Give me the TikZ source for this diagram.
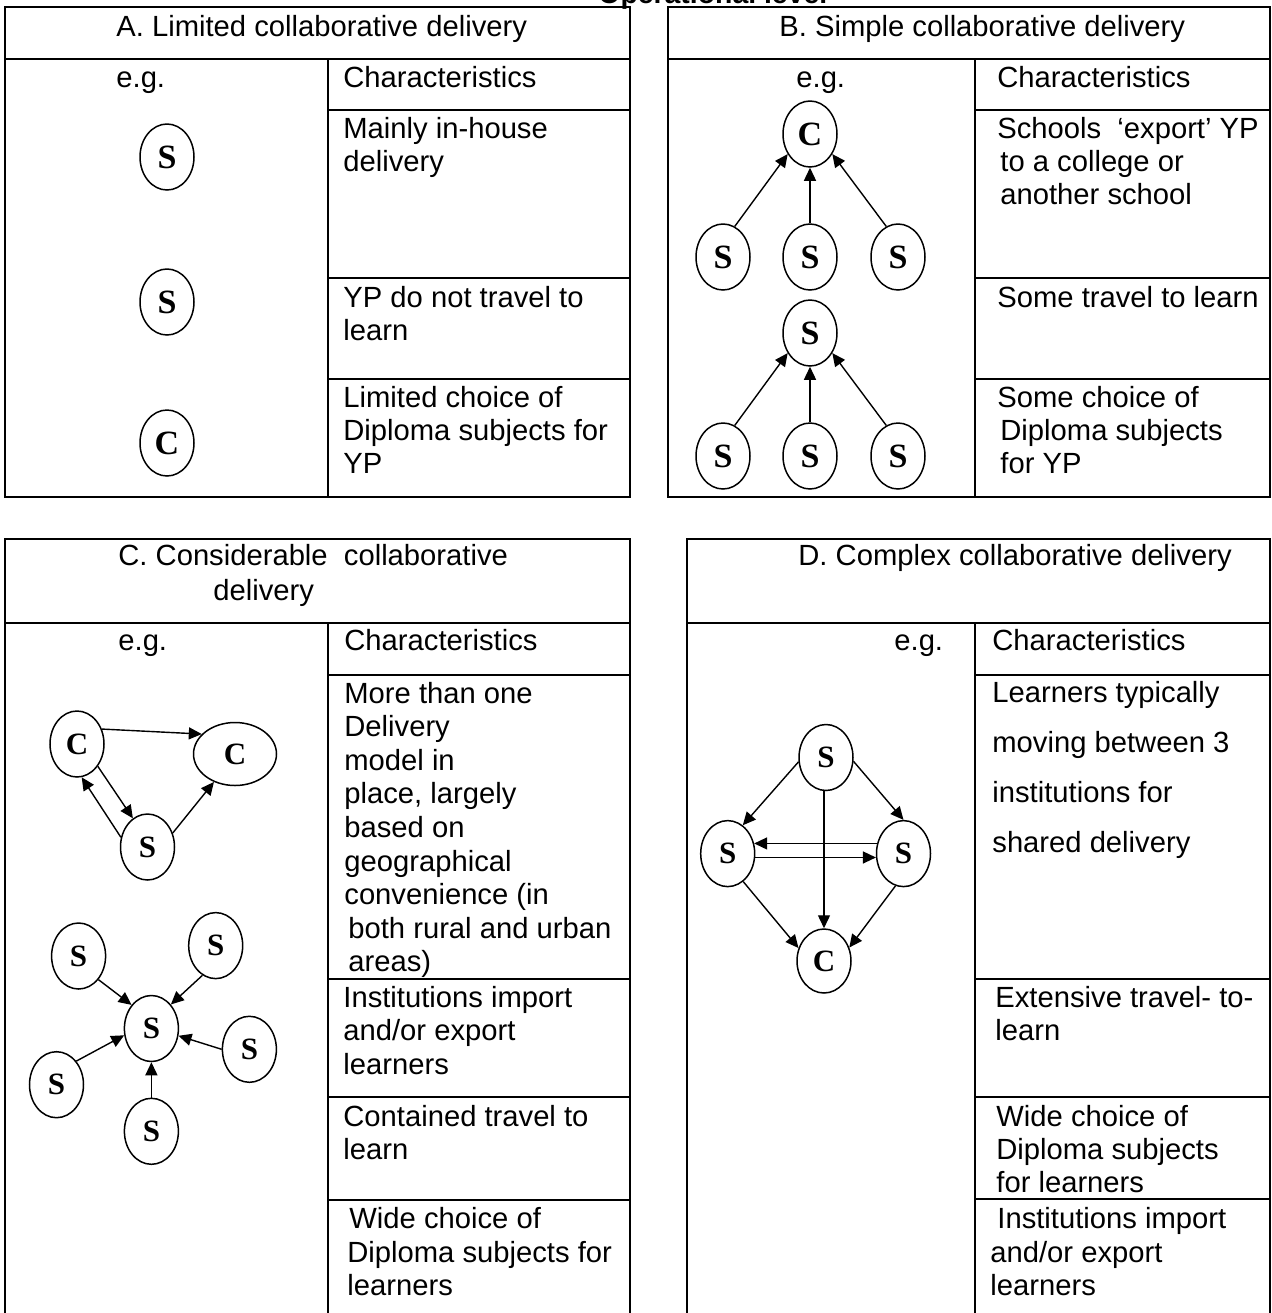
\documentclass[tikz,border=0pt]{standalone}
\usepackage{fontspec}
\setmainfont{Liberation Sans}
\newfontfamily\nodeserif{Liberation Serif}
\usetikzlibrary{shapes.geometric,arrows.meta}

\tikzset{
  frame/.style={line width=1pt},
  txt/.style={font=\fontsize{14.6}{17}\selectfont, inner sep=0pt, anchor=base west},
  inst/.style={ellipse, draw, line width=0.75pt, minimum width=27pt, minimum height=33pt, inner sep=0pt,
    font=\nodeserif\bfseries\fontsize{17}{17}\selectfont},
  instsm/.style={inst, font=\nodeserif\bfseries\fontsize{15.5}{15.5}\selectfont},
  arr/.style={-{Triangle[length=6.5pt,width=6pt]}, line width=0.7pt},
}
\newcommand\celllines[5]{\foreach \t [count=\i] in {#5} {\node[txt] (#1-\i) at (#2,{#3+(\i-1)*#4}) {\t};}}

\begin{document}
\begin{tikzpicture}[x=0.5pt,y=-0.5pt]
\useasboundingbox (0,0) rectangle (1271,1313);

% heading (cut by the top edge, as in the reference)
\node[font=\bfseries\fontsize{14.2}{17}\selectfont, inner sep=0pt, anchor=base west] (heading) at (598,3.5) {Operational level};

% ---------- Box A ----------
\draw[frame] (5,7) rectangle (630,497);
\draw[frame] (5,59) -- (630,59);
\draw[frame] (328,59) -- (328,497);
\draw[frame] (328,110) -- (630,110);
\draw[frame] (328,278) -- (630,278);
\draw[frame] (328,379) -- (630,379);
\node[txt] (a-title) at (116,36) {A. Limited collaborative delivery};
\node[txt] (a-eg) at (116,87) {e.g.};
\node[txt] (a-ch) at (343,87) {Characteristics};
\celllines{a1}{343}{138}{33}{Mainly in-house,delivery}
\celllines{a2}{343}{307}{33}{YP do not travel to,learn}
\celllines{a3}{343}{407}{33}{Limited choice of,Diploma subjects for,YP}
\node[inst] (a-s1) at (167,157) {S};
\node[inst] (a-s2) at (167,302) {S};
\node[inst] (a-c) at (167,443) {C};

% ---------- Box B ----------
\draw[frame] (668,7) rectangle (1270,497);
\draw[frame] (668,59) -- (1270,59);
\draw[frame] (975,59) -- (975,497);
\draw[frame] (975,110) -- (1270,110);
\draw[frame] (975,278) -- (1270,278);
\draw[frame] (975,379) -- (1270,379);
\node[txt] (b-title) at (779,36) {B. Simple collaborative delivery};
\node[txt] (b-eg) at (796,87) {e.g.};
\node[txt] (b-ch) at (997,87) {Characteristics};
\node[txt] (b1-1) at (997,138) {Schools~\ ‘export’ YP};
\celllines{b1x}{1000}{171}{33}{to a college or,another school}
\node[txt] (b2-1) at (997,307) {Some travel to learn};
\node[txt] (b3-1) at (997,407) {Some choice of};
\celllines{b3x}{1000}{440}{33}{Diploma subjects,for YP}
\node[inst] (b-c) at (810,134) {C};
\node[inst] (b-s1) at (723,257) {S};
\node[inst] (b-s2) at (810,257) {S};
\node[inst] (b-s3) at (898,257) {S};
\node[inst] (b-m) at (810,333) {S};
\node[inst] (b-t1) at (723,456) {S};
\node[inst] (b-t2) at (810,456) {S};
\node[inst] (b-t3) at (898,456) {S};
\draw[arr] (b-s1.69) -- (b-c.222);
\draw[arr] (b-s2.north) -- (b-c.south);
\draw[arr] (b-s3.111) -- (b-c.-42);
\draw[arr] (b-t1.69) -- (b-m.222);
\draw[arr] (b-t2.north) -- (b-m.south);
\draw[arr] (b-t3.111) -- (b-m.-42);

% ---------- Box C ----------
\draw[frame] (5,1325) -- (5,539) -- (630,539) -- (630,1325);
\draw[frame] (5,623) -- (630,623);
\draw[frame] (328,623) -- (328,1325);
\draw[frame] (328,675) -- (630,675);
\draw[frame] (328,979) -- (630,979);
\draw[frame] (328,1097) -- (630,1097);
\draw[frame] (328,1200) -- (630,1200);
\node[txt] (c-title1) at (118,565) {C. Considerable~\ collaborative};
\node[txt] (c-title2) at (213,600) {delivery};
\node[txt] (c-eg) at (118,650) {e.g.};
\node[txt] (c-ch) at (344,650) {Characteristics};
\celllines{c1}{344}{703}{33.6}{More than one,Delivery,model in,{place, largely},based on,geographical,convenience (in}
\celllines{c1x}{348}{938.2}{33.6}{both rural and urban,areas)}
\celllines{c2}{343}{1007}{33.5}{Institutions import,and/or export,learners}
\celllines{c3}{343}{1126}{33.5}{Contained travel to,learn}
\node[txt] (c4-1) at (349,1228) {Wide choice of};
\celllines{c4x}{347}{1262}{33.5}{Diploma subjects for,learners}
% triangle group
\node[instsm] (c-c1) at (77,744) {C};
\node[instsm, minimum width=41.5pt, minimum height=31.5pt] (c-c2) at (235,754) {C};
\node[instsm] (c-s) at (147.5,847) {S};
\draw[arr] (c-c1.31) -- (c-c2.149);
\draw[arr] (c-c1.-47) -- (c-s.117);
\draw[arr] (c-s.160) -- (c-c1.-82);
\draw[arr] (c-s.29) -- (c-c2.-127);
% star group
\node[instsm] (c-tl) at (78.6,956) {S};
\node[instsm] (c-tr) at (215.7,945.6) {S};
\node[instsm] (c-ctr) at (151.4,1028.5) {S};
\node[instsm] (c-r) at (249.4,1049.3) {S};
\node[instsm] (c-l) at (56.5,1084.7) {S};
\node[instsm] (c-b) at (151.4,1131.3) {S};
\draw[arr] (c-tl.-50) -- (c-ctr.130);
\draw[arr] (c-tr.-114) -- (c-ctr.51);
\draw[arr] (c-r.west) -- (c-ctr.-15);
\draw[arr] (c-l.50) -- (c-ctr.194);
\draw[arr] (c-b.north) -- (c-ctr.south);

% ---------- Box D ----------
\draw[frame] (687,1325) -- (687,539) -- (1270,539) -- (1270,1325);
\draw[frame] (687,623) -- (1270,623);
\draw[frame] (975,623) -- (975,1325);
\draw[frame] (975,675) -- (1270,675);
\draw[frame] (975,979) -- (1270,979);
\draw[frame] (975,1097) -- (1270,1097);
\draw[frame] (975,1199) -- (1270,1199);
\node[txt] (d-title) at (798,565) {D. Complex collaborative delivery};
\node[txt] (d-eg) at (894,650) {e.g.};
\node[txt] (d-ch) at (992,650) {Characteristics};
\celllines{d1}{992}{702}{50}{Learners typically,moving between 3,institutions for,shared delivery}
\celllines{d2}{995}{1007}{33.5}{Extensive travel- to-,learn}
\celllines{d3}{996}{1126}{33}{Wide choice of,Diploma subjects,for learners}
\node[txt] (d4-1) at (997,1228) {Institutions import};
\celllines{d4x}{990}{1262}{33.5}{and/or export,learners}
\node[instsm] (d-t) at (826,757.5) {S};
\node[instsm] (d-l) at (727.7,853.6) {S};
\node[instsm] (d-r) at (903.5,853.6) {S};
\node[instsm, minimum height=32pt] (d-c) at (824,961) {C};
\draw[arr] (d-t.189) -- (d-l.62);
\draw[arr] (d-t.-8) -- (d-r.north);
\draw[arr] (d-c.north |- d-t.south) -- (d-c.north);
\draw[arr] (d-l.-61) -- (d-c.153);
\draw[arr] (d-r.-104) -- (d-c.28);
\draw[arr] (d-r.159) -- (d-l.21);
\draw[arr] (d-l.-8) -- (d-r.188);
\end{tikzpicture}
\end{document}
